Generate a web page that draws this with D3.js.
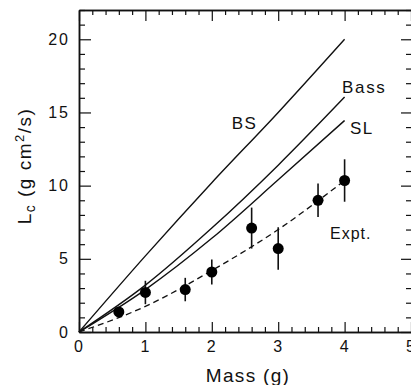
<!DOCTYPE html>
<html>
<head>
<meta charset="utf-8">
<script src="https://cdn.jsdelivr.net/npm/d3@7"></script>
<style>
  body { margin: 0; background: #fff; }
  svg text { font-family: "Liberation Sans", Arial, sans-serif; fill: #111; }
</style>
</head>
<body>
<div id="graph"></div>
<script>
var w = 411, h = 385

// measured points (Expt.)
var mass = [0.6, 1.0, 1.6, 2.0, 2.6, 3.0, 3.6, 4.0]
var lc = [1.37, 2.7, 2.9, 4.1, 7.1, 5.7, 9.0, 10.35]
var lcErr = [0.3, 0.8, 0.8, 0.85, 1.4, 1.45, 1.15, 1.45]

// theory curves
var curveMass = [0, 1, 2, 3, 4]
var bs = [0, 5.2, 10.2, 15.0, 20.0]
var bass = [0, 3.2, 7.1, 11.4, 16.05]
var sl = [0, 2.9, 6.4, 10.4, 14.45]
var exptFit = [0, 1.75, 4.2, 7.0, 10.35]

var xTicks = [0, 1, 2, 3, 4, 5]
var yTicks = [0, 5, 10, 15, 20]

var x = d3.scaleLinear().domain([0, 5]).range([79, 411])
var y = d3.scaleLinear().domain([0, 22]).range([332, 10])

var svg = d3.select('#graph').append('svg')
    .attr('width', w).attr('height', h)

function axisStyle(g, withText){
  g.select('.domain').attr('stroke', '#111').attr('stroke-width', 1.5)
  g.selectAll('.tick line').attr('stroke', '#111').attr('stroke-width', 1.2)
  if (withText) g.selectAll('.tick text').style('font-size', '16px').style('letter-spacing', '2px').attr('fill', '#111')
  else g.selectAll('.tick text').remove()
  g.attr('font-family', null)
}

var minorX = d3.range(0, 5.01, 0.2).filter(function(d){ return Math.abs(d - Math.round(d)) > 1e-6 })
var minorY = d3.range(0, 22.01, 1).filter(function(d){ return d % 5 != 0 })

// bottom
svg.append('g').attr('transform', 'translate(0,332)')
    .call(d3.axisBottom(x).tickValues(minorX).tickSize(-5).tickSizeOuter(0).tickFormat(''))
    .call(axisStyle, false)
svg.append('g').attr('transform', 'translate(0,332)')
    .call(d3.axisBottom(x).tickValues(xTicks).tickSize(-10).tickSizeOuter(0).tickPadding(9).tickFormat(d3.format('d')))
    .call(axisStyle, true)
// top
svg.append('g').attr('transform', 'translate(0,10)')
    .call(d3.axisTop(x).tickValues(minorX).tickSize(-5).tickSizeOuter(0).tickFormat(''))
    .call(axisStyle, false)
svg.append('g').attr('transform', 'translate(0,10)')
    .call(d3.axisTop(x).tickValues(xTicks).tickSize(-11).tickSizeOuter(0).tickFormat(''))
    .call(axisStyle, false)
// left
svg.append('g').attr('transform', 'translate(79,0)')
    .call(d3.axisLeft(y).tickValues(minorY).tickSize(-6).tickSizeOuter(0).tickFormat(''))
    .call(axisStyle, false)
svg.append('g').attr('transform', 'translate(79,0)')
    .call(d3.axisLeft(y).tickValues(yTicks).tickSize(-12).tickSizeOuter(0).tickPadding(9).tickFormat(d3.format('d')))
    .call(axisStyle, true)
// right (frame edge sits just past the picture)
svg.append('g').attr('transform', 'translate(412,0)')
    .call(d3.axisRight(y).tickValues(minorY).tickSize(-6).tickSizeOuter(0).tickFormat(''))
    .call(axisStyle, false)
svg.append('g').attr('transform', 'translate(412,0)')
    .call(d3.axisRight(y).tickValues(yTicks).tickSize(-11).tickSizeOuter(0).tickFormat(''))
    .call(axisStyle, false)

// curves
var line = d3.line()
    .x(function(d){ return x(d[0]) })
    .y(function(d){ return y(d[1]) })
    .curve(d3.curveMonotoneX)

;[bs, bass, sl].forEach(function(vals){
  svg.append('path')
      .attr('d', line(d3.zip(curveMass, vals)))
      .attr('fill', 'none').attr('stroke', '#111').attr('stroke-width', 1.4)
})
svg.append('path')
    .attr('d', line(d3.zip(curveMass, exptFit)))
    .attr('fill', 'none').attr('stroke', '#111').attr('stroke-width', 1.3)
    .attr('stroke-dasharray', '6,4')

// error bars + points
var pts = d3.zip(mass, lc, lcErr)
svg.selectAll('line.err').data(pts).enter().append('line')
    .attr('class', 'err')
    .attr('x1', function(d){ return x(d[0]) }).attr('x2', function(d){ return x(d[0]) })
    .attr('y1', function(d){ return y(d[1] - d[2]) }).attr('y2', function(d){ return y(d[1] + d[2]) })
    .attr('stroke', '#111').attr('stroke-width', 1.6)
svg.selectAll('circle.pt').data(pts).enter().append('circle')
    .attr('class', 'pt')
    .attr('cx', function(d){ return x(d[0]) })
    .attr('cy', function(d){ return y(d[1]) })
    .attr('r', 5.5)
    .attr('fill', '#000')

// curve labels
var labels = [
  {t: 'BS', x: 2.3, y: 13.9, s: 17, ls: 1.5},
  {t: 'Bass', x: 3.96, y: 16.35, s: 17, ls: 1.7},
  {t: 'SL', x: 4.08, y: 13.55, s: 17, ls: 1.5},
  {t: 'Expt.', x: 3.78, y: 6.35, s: 16, ls: 1}
]
svg.selectAll('text.lab').data(labels).enter().append('text')
    .attr('class', 'lab')
    .attr('x', function(d){ return x(d.x) })
    .attr('y', function(d){ return y(d.y) })
    .style('font-size', function(d){ return d.s + 'px' })
    .style('letter-spacing', function(d){ return d.ls + 'px' })
    .text(function(d){ return d.t })

// axis titles
svg.append('text')
    .attr('x', 248).attr('y', 382)
    .attr('text-anchor', 'middle')
    .style('font-size', '19px').style('letter-spacing', '1.3px')
    .text('Mass (g)')

var yt = svg.append('text')
    .attr('transform', 'translate(31,166) rotate(-90)')
    .attr('text-anchor', 'middle')
    .style('font-size', '19px').style('letter-spacing', '1.5px')
yt.append('tspan').text('L')
yt.append('tspan').attr('dy', 4).style('font-size', '14px').text('c')
yt.append('tspan').attr('dy', -4).text(' (g cm')
yt.append('tspan').attr('dy', -7).style('font-size', '13px').text('2')
yt.append('tspan').attr('dy', 7).text('/s)')
</script>
</body>
</html>
